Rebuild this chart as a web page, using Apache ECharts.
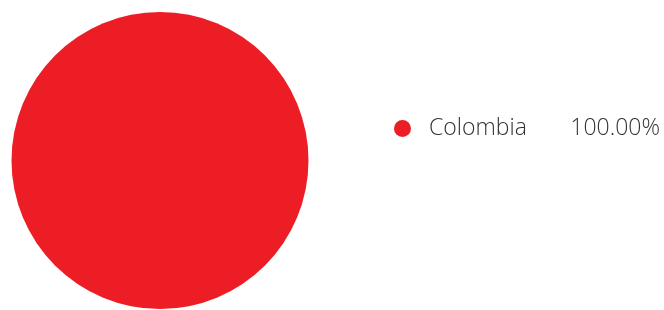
<!DOCTYPE html>
<html>
<head>
<meta charset="utf-8">
<script src="https://cdn.jsdelivr.net/npm/echarts@6/dist/echarts.min.js"></script>
<style>
  html, body { margin: 0; padding: 0; background: #fff; }
  #chart { width: 664px; height: 310px; }
</style>
</head>
<body>
<div id="chart"></div>
<script>
var countries = ['Colombia'];
var shares = [100];
var colors = ['#ED1D25'];

var chart = echarts.init(document.getElementById('chart'));

var total = shares.reduce(function (a, b) { return a + b; }, 0);

chart.setOption({
    animation: false,
    color: colors,
    legend: {
        orient: 'vertical',
        left: 389,
        top: 112,
        icon: 'circle',
        itemWidth: 17,
        itemHeight: 17,
        selectedMode: false,
        formatter: function (name) {
            var i = countries.indexOf(name);
            var pct = (shares[i] / total * 100).toFixed(2) + '%';
            return '{n|' + name + '}{v|' + pct + '}';
        },
        textStyle: {
            rich: {
                n: {
                    fontFamily: 'Open Sans',
                    fontWeight: 300,
                    fontSize: 23,
                    color: '#333',
                    width: 140,
                    padding: [0, 0, 0, 13]
                },
                v: {
                    fontFamily: 'Open Sans',
                    fontWeight: 300,
                    fontSize: 23,
                    color: '#333',
                    width: 91,
                    align: 'right'
                }
            }
        }
    },
    series: [{
        type: 'pie',
        center: [160, 160.5],
        radius: [0, 148.5],
        label: { show: false },
        labelLine: { show: false },
        silent: true,
        itemStyle: { borderWidth: 0 },
        data: countries.map(function (c, i) {
            return { name: c, value: shares[i] };
        })
    }]
});
</script>
</body>
</html>
